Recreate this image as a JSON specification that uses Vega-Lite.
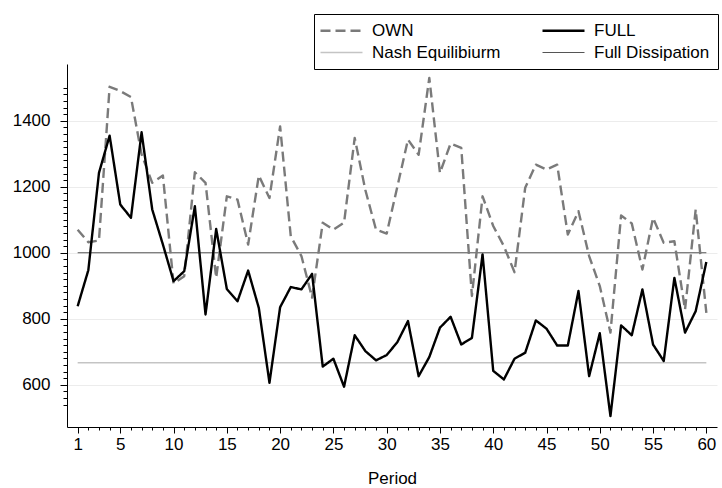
{
  "$schema": "https://vega.github.io/schema/vega-lite/v6.json",
  "width": 650,
  "height": 363,
  "autosize": {"type": "none"},
  "padding": {"left": 67, "top": 64, "right": 6, "bottom": 61},
  "config": {
    "font": "Liberation Sans",
    "view": {"stroke": null},
    "axis": {"domainColor": "#000", "tickColor": "#000", "labelColor": "#000", "titleColor": "#000", "labelFontSize": 17, "titleFontSize": 17, "titleFontWeight": "normal", "labelOverlap": false, "labelFlush": false, "labelBound": false}
  },
  "data": {
    "values": [
      {"period": 1, "series": "Nash Equilibiurm", "value": 666.67},
      {"period": 60, "series": "Nash Equilibiurm", "value": 666.67},
      {"period": 1, "series": "Full Dissipation", "value": 1000},
      {"period": 60, "series": "Full Dissipation", "value": 1000},
      {"period": 1, "series": "OWN", "value": 1070},
      {"period": 2, "series": "OWN", "value": 1032},
      {"period": 3, "series": "OWN", "value": 1037},
      {"period": 4, "series": "OWN", "value": 1503},
      {"period": 5, "series": "OWN", "value": 1490},
      {"period": 6, "series": "OWN", "value": 1472},
      {"period": 7, "series": "OWN", "value": 1298},
      {"period": 8, "series": "OWN", "value": 1212},
      {"period": 9, "series": "OWN", "value": 1234},
      {"period": 10, "series": "OWN", "value": 907},
      {"period": 11, "series": "OWN", "value": 929},
      {"period": 12, "series": "OWN", "value": 1244},
      {"period": 13, "series": "OWN", "value": 1212},
      {"period": 14, "series": "OWN", "value": 924},
      {"period": 15, "series": "OWN", "value": 1171},
      {"period": 16, "series": "OWN", "value": 1161},
      {"period": 17, "series": "OWN", "value": 1025},
      {"period": 18, "series": "OWN", "value": 1234},
      {"period": 19, "series": "OWN", "value": 1166},
      {"period": 20, "series": "OWN", "value": 1383},
      {"period": 21, "series": "OWN", "value": 1050},
      {"period": 22, "series": "OWN", "value": 990},
      {"period": 23, "series": "OWN", "value": 864},
      {"period": 24, "series": "OWN", "value": 1091},
      {"period": 25, "series": "OWN", "value": 1070},
      {"period": 26, "series": "OWN", "value": 1091},
      {"period": 27, "series": "OWN", "value": 1348},
      {"period": 28, "series": "OWN", "value": 1190},
      {"period": 29, "series": "OWN", "value": 1070},
      {"period": 30, "series": "OWN", "value": 1058},
      {"period": 31, "series": "OWN", "value": 1200},
      {"period": 32, "series": "OWN", "value": 1343},
      {"period": 33, "series": "OWN", "value": 1297},
      {"period": 34, "series": "OWN", "value": 1530},
      {"period": 35, "series": "OWN", "value": 1242},
      {"period": 36, "series": "OWN", "value": 1331},
      {"period": 37, "series": "OWN", "value": 1318},
      {"period": 38, "series": "OWN", "value": 869},
      {"period": 39, "series": "OWN", "value": 1171},
      {"period": 40, "series": "OWN", "value": 1081},
      {"period": 41, "series": "OWN", "value": 1020},
      {"period": 42, "series": "OWN", "value": 941},
      {"period": 43, "series": "OWN", "value": 1197},
      {"period": 44, "series": "OWN", "value": 1267},
      {"period": 45, "series": "OWN", "value": 1252},
      {"period": 46, "series": "OWN", "value": 1267},
      {"period": 47, "series": "OWN", "value": 1055},
      {"period": 48, "series": "OWN", "value": 1126},
      {"period": 49, "series": "OWN", "value": 990},
      {"period": 50, "series": "OWN", "value": 899},
      {"period": 51, "series": "OWN", "value": 758},
      {"period": 52, "series": "OWN", "value": 1113},
      {"period": 53, "series": "OWN", "value": 1089},
      {"period": 54, "series": "OWN", "value": 949},
      {"period": 55, "series": "OWN", "value": 1106},
      {"period": 56, "series": "OWN", "value": 1030},
      {"period": 57, "series": "OWN", "value": 1035},
      {"period": 58, "series": "OWN", "value": 828},
      {"period": 59, "series": "OWN", "value": 1131},
      {"period": 60, "series": "OWN", "value": 818},
      {"period": 1, "series": "FULL", "value": 838},
      {"period": 2, "series": "FULL", "value": 947},
      {"period": 3, "series": "FULL", "value": 1242},
      {"period": 4, "series": "FULL", "value": 1355},
      {"period": 5, "series": "FULL", "value": 1146},
      {"period": 6, "series": "FULL", "value": 1106},
      {"period": 7, "series": "FULL", "value": 1365},
      {"period": 8, "series": "FULL", "value": 1131},
      {"period": 9, "series": "FULL", "value": 1025},
      {"period": 10, "series": "FULL", "value": 914},
      {"period": 11, "series": "FULL", "value": 944},
      {"period": 12, "series": "FULL", "value": 1141},
      {"period": 13, "series": "FULL", "value": 813},
      {"period": 14, "series": "FULL", "value": 1072},
      {"period": 15, "series": "FULL", "value": 890},
      {"period": 16, "series": "FULL", "value": 853},
      {"period": 17, "series": "FULL", "value": 946},
      {"period": 18, "series": "FULL", "value": 833},
      {"period": 19, "series": "FULL", "value": 606},
      {"period": 20, "series": "FULL", "value": 835},
      {"period": 21, "series": "FULL", "value": 896},
      {"period": 22, "series": "FULL", "value": 889},
      {"period": 23, "series": "FULL", "value": 936},
      {"period": 24, "series": "FULL", "value": 655},
      {"period": 25, "series": "FULL", "value": 679},
      {"period": 26, "series": "FULL", "value": 594},
      {"period": 27, "series": "FULL", "value": 750},
      {"period": 28, "series": "FULL", "value": 702},
      {"period": 29, "series": "FULL", "value": 674},
      {"period": 30, "series": "FULL", "value": 690},
      {"period": 31, "series": "FULL", "value": 729},
      {"period": 32, "series": "FULL", "value": 793},
      {"period": 33, "series": "FULL", "value": 626},
      {"period": 34, "series": "FULL", "value": 684},
      {"period": 35, "series": "FULL", "value": 773},
      {"period": 36, "series": "FULL", "value": 806},
      {"period": 37, "series": "FULL", "value": 722},
      {"period": 38, "series": "FULL", "value": 742},
      {"period": 39, "series": "FULL", "value": 995},
      {"period": 40, "series": "FULL", "value": 642},
      {"period": 41, "series": "FULL", "value": 616},
      {"period": 42, "series": "FULL", "value": 679},
      {"period": 43, "series": "FULL", "value": 697},
      {"period": 44, "series": "FULL", "value": 795},
      {"period": 45, "series": "FULL", "value": 770},
      {"period": 46, "series": "FULL", "value": 719},
      {"period": 47, "series": "FULL", "value": 719},
      {"period": 48, "series": "FULL", "value": 884},
      {"period": 49, "series": "FULL", "value": 626},
      {"period": 50, "series": "FULL", "value": 756},
      {"period": 51, "series": "FULL", "value": 505},
      {"period": 52, "series": "FULL", "value": 780},
      {"period": 53, "series": "FULL", "value": 750},
      {"period": 54, "series": "FULL", "value": 889},
      {"period": 55, "series": "FULL", "value": 722},
      {"period": 56, "series": "FULL", "value": 672},
      {"period": 57, "series": "FULL", "value": 924},
      {"period": 58, "series": "FULL", "value": 758},
      {"period": 59, "series": "FULL", "value": 823},
      {"period": 60, "series": "FULL", "value": 972}
    ]
  },
  "mark": {"type": "line", "strokeJoin": "round"},
  "encoding": {
    "x": {
      "field": "period", "type": "quantitative",
      "scale": {"domain": [0, 61], "nice": false, "zero": false},
      "axis": {
        "title": "Period", "grid": false,
        "values": [1,2,3,4,5,6,7,8,9,10,11,12,13,14,15,16,17,18,19,20,21,22,23,24,25,26,27,28,29,30,31,32,33,34,35,36,37,38,39,40,41,42,43,44,45,46,47,48,49,50,51,52,53,54,55,56,57,58,59,60],
        "labelExpr": "(datum.value == 1 || datum.value % 5 == 0) ? datum.label : ''",
        "tickSize": {"condition": {"test": "datum.value == 1 || datum.value % 5 == 0", "value": 6}, "value": 3},
        "labelPadding": 3,
        "titlePadding": 18
      }
    },
    "y": {
      "field": "value", "type": "quantitative",
      "scale": {"domain": [472, 1572], "nice": false, "zero": false},
      "axis": {
        "title": null,
        "values": [540,560,580,600,620,640,660,680,700,720,740,760,780,800,820,840,860,880,900,920,940,960,980,1000,1020,1040,1060,1080,1100,1120,1140,1160,1180,1200,1220,1240,1260,1280,1300,1320,1340,1360,1380,1400,1420,1440,1460,1480,1500],
        "labelExpr": "datum.value % 200 == 0 ? datum.label : ''",
        "format": "d",
        "tickSize": {"condition": {"test": "datum.value % 200 == 0", "value": 7}, "value": 4},
        "labelPadding": 10,
        "grid": true,
        "gridColor": "#ececec",
        "gridOpacity": {"condition": {"test": "datum.value % 200 == 0", "value": 1}, "value": 0}
      }
    },
    "color": {
      "field": "series", "type": "nominal",
      "scale": {"domain": ["OWN", "FULL", "Nash Equilibiurm", "Full Dissipation"], "range": ["#7a7a7a", "#000000", "#c4c4c4", "#555555"]},
      "legend": {
        "title": null, "orient": "none", "legendX": 247, "legendY": -50,
        "direction": "horizontal",
        "columns": 2, "columnPadding": 36, "rowPadding": 4,
        "symbolType": "M-1,0H3.2", "symbolSize": 400, "labelOffset": 33,
        "labelFontSize": 17, "labelColor": "#000",
        "strokeColor": "#000", "padding": 8,
        "encode": {"symbols": {"update": {"strokeWidth": {"signal": "(datum.value == 'OWN' || datum.value == 'FULL') ? 2.4 : (datum.value == 'Nash Equilibiurm' ? 1.5 : 1.2)"}}}}
      }
    },
    "strokeDash": {
      "field": "series", "type": "nominal",
      "scale": {"domain": ["OWN", "FULL", "Nash Equilibiurm", "Full Dissipation"], "range": [[10, 5], [1, 0], [1, 0], [1, 0]]},
      "legend": null
    },
    "strokeWidth": {
      "condition": [
        {"test": "datum.series == 'OWN' || datum.series == 'FULL'", "value": 2.4},
        {"test": "datum.series == 'Nash Equilibiurm'", "value": 1.5}
      ],
      "value": 1.2
    }
  }
}
